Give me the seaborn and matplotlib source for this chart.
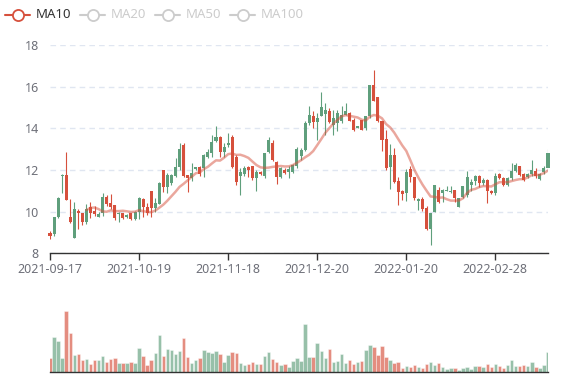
import numpy as np
import pandas as pd
import matplotlib
matplotlib.use("Agg")
import matplotlib.pyplot as plt
from matplotlib.lines import Line2D
import seaborn as sns

# ==========================================
# 数据
# ==========================================
OPEN = [8.99, 8.92, 9.72, 11.70, 11.76, 9.72, 8.75, 10.04, 9.92, 9.52,
        10.20, 10.01, 9.75, 9.92, 10.69, 10.43, 10.30, 9.88, 9.92, 9.76,
        9.92, 9.63, 10.00, 10.63, 10.24, 10.97, 10.16, 10.36, 12.00, 11.16,
        11.36, 11.70, 12.12, 13.20, 11.74, 11.60, 12.03, 12.12, 12.08, 12.64,
        12.83, 13.41, 13.57, 12.85, 13.20, 13.60, 12.60, 11.70, 11.80, 12.15,
        12.17, 11.60, 11.92, 11.69, 12.85, 13.30, 12.40, 11.65, 12.00, 11.88,
        11.92, 12.20, 12.65, 12.97, 14.25, 14.60, 14.30, 14.57, 14.70, 14.81,
        14.17, 14.25, 14.33, 14.65, 14.73, 14.41, 14.01, 14.41, 14.01, 14.57,
        16.10, 15.50, 14.33, 13.47, 12.13, 12.72, 11.49, 11.00, 10.88, 12.03,
        11.65, 10.49, 10.60, 10.17, 9.16, 10.00, 11.04, 10.90, 10.97, 10.93,
        11.04, 10.24, 10.72, 10.80, 11.28, 11.45, 11.72, 11.37, 11.50, 11.00,
        10.89, 11.82, 11.60, 11.30, 11.61, 11.97, 12.20, 11.82, 11.68, 11.82,
        11.93, 11.55, 11.88, 12.09]
CLOSE = [8.83, 9.72, 10.67, 11.78, 10.56, 9.52, 10.11, 9.92, 9.52, 10.11,
         9.92, 9.88, 9.90, 10.69, 10.37, 10.24, 9.68, 9.95, 9.68, 9.84,
         9.63, 10.00, 10.64, 10.23, 9.95, 10.16, 10.40, 11.36, 11.16, 11.76,
         11.76, 12.12, 12.99, 11.70, 11.61, 11.84, 12.12, 11.80, 12.72, 12.88,
         13.36, 13.60, 12.88, 13.09, 13.31, 12.14, 11.44, 11.90, 12.10, 12.00,
         11.60, 11.90, 11.80, 12.81, 13.45, 12.50, 11.65, 12.10, 11.87, 12.05,
         12.24, 13.00, 12.97, 14.25, 14.65, 14.29, 14.50, 15.00, 14.90, 14.29,
         14.49, 14.73, 14.65, 14.81, 14.33, 13.90, 14.09, 13.93, 14.57, 16.10,
         15.29, 14.33, 13.45, 12.08, 12.72, 11.44, 10.96, 10.85, 11.92, 11.65,
         10.65, 10.60, 10.12, 9.16, 9.93, 11.28, 10.48, 11.04, 11.04, 11.00,
         10.64, 10.64, 11.21, 11.68, 11.44, 11.72, 11.37, 11.53, 10.97, 10.88,
         11.72, 11.60, 11.29, 11.62, 11.97, 12.24, 11.77, 11.53, 11.82, 12.00,
         11.69, 11.80, 12.09, 12.81]
LOW = [8.67, 8.83, 9.68, 10.88, 10.56, 9.45, 8.72, 9.15, 9.36, 9.41,
       9.68, 9.79, 9.72, 9.79, 10.27, 10.11, 9.60, 9.52, 9.66, 9.70,
       9.60, 9.60, 9.63, 9.76, 9.84, 9.72, 10.00, 10.36, 10.96, 10.91,
       11.30, 11.65, 12.00, 11.64, 10.95, 11.48, 12.00, 11.70, 11.68, 12.56,
       12.64, 13.36, 12.60, 12.60, 13.10, 12.10, 11.30, 10.80, 11.70, 11.65,
       11.50, 10.97, 11.75, 11.60, 12.80, 12.45, 11.35, 11.60, 11.80, 11.60,
       11.85, 12.10, 12.49, 12.89, 14.17, 14.01, 13.45, 14.57, 13.69, 14.25,
       13.69, 13.85, 14.25, 14.65, 14.33, 13.85, 14.01, 13.93, 13.93, 14.50,
       15.29, 14.30, 12.89, 12.00, 11.08, 11.36, 10.33, 10.57, 10.49, 11.44,
       10.57, 10.09, 10.05, 9.13, 8.41, 10.00, 10.40, 10.48, 10.97, 10.89,
       10.48, 10.24, 10.64, 10.72, 11.00, 11.29, 11.20, 11.29, 10.40, 10.85,
       10.81, 11.55, 11.21, 11.25, 11.53, 11.90, 11.69, 11.45, 11.60, 11.69,
       11.61, 11.50, 11.80, 12.05]
HIGH = [9.07, 9.75, 10.72, 11.80, 12.88, 10.59, 10.48, 10.11, 9.95, 10.37,
        10.48, 10.27, 9.96, 10.88, 10.80, 10.85, 10.33, 9.98, 9.95, 9.90,
        9.95, 10.05, 10.72, 10.66, 10.40, 11.00, 10.64, 11.40, 12.00, 11.84,
        11.80, 12.56, 13.28, 13.31, 11.76, 12.32, 12.15, 12.19, 12.75, 12.99,
        13.68, 14.11, 13.62, 13.28, 13.76, 13.70, 12.70, 12.10, 12.20, 12.20,
        12.20, 12.00, 11.95, 12.83, 13.60, 13.45, 12.45, 12.15, 12.10, 12.20,
        12.30, 13.10, 13.05, 14.33, 15.05, 14.81, 14.73, 15.74, 15.21, 14.97,
        14.89, 14.89, 15.05, 15.21, 14.78, 14.49, 14.12, 14.41, 14.60, 16.10,
        16.82, 15.50, 14.33, 13.92, 13.25, 13.04, 11.65, 11.03, 12.03, 12.19,
        11.65, 10.65, 10.70, 10.25, 9.95, 11.30, 11.20, 11.08, 11.21, 11.21,
        11.04, 10.64, 11.21, 11.93, 11.55, 11.77, 11.77, 11.61, 11.56, 11.05,
        11.85, 11.85, 11.65, 11.65, 12.35, 12.33, 12.20, 11.85, 11.85, 12.49,
        12.09, 11.85, 12.17, 13.00]
VOLUME = [42, 104, 93, 42, 183, 118, 50, 53, 36, 38,
          25, 36, 35, 49, 30, 38, 41, 27, 27, 27,
          30, 26, 72, 48, 21, 36, 56, 111, 48, 68,
          65, 53, 63, 101, 46, 27, 36, 41, 66, 61,
          58, 63, 54, 30, 51, 60, 56, 27, 21, 25,
          30, 23, 25, 47, 60, 38, 30, 21, 24, 14,
          33, 42, 34, 144, 45, 45, 88, 64, 42, 68,
          30, 33, 54, 27, 36, 24, 30, 32, 65, 82,
          75, 52, 78, 44, 36, 27, 30, 13, 18, 16,
          20, 15, 12, 25, 30, 21, 27, 14, 8, 11,
          12, 6, 11, 15, 10, 18, 17, 16, 24, 14,
          25, 18, 12, 22, 35, 18, 18, 22, 18, 30,
          15, 12, 22, 59]
TICK_LABELS = ["2021-09-17", "2021-10-19", "2021-11-18",
               "2021-12-20", "2022-01-20", "2022-02-28"]
TICK_STEP = 22
LEGEND_NAMES = ["MA10", "MA20", "MA50", "MA100"]

RED = "#d6503c"
GREEN = "#5f9f7c"
AXIS_C = "#6e7079"

df = pd.DataFrame({"open": OPEN, "close": CLOSE, "low": LOW,
                   "high": HIGH, "vol": VOLUME})
df["idx"] = np.arange(len(df))
df["dir"] = np.where(df["close"] >= df["open"], "up", "down")
df["ma10"] = df["close"].rolling(10).mean()

# ==========================================
# 绘图
# ==========================================
sns.set_theme(style="white")
plt.rcParams["font.family"] = ["Noto Sans", "DejaVu Sans"]

W, H = 577, 380
fig = plt.figure(figsize=(W / 100, H / 100), dpi=100)
ax = fig.add_axes([50 / W, (H - 253.3) / H, 498 / W, 208.3 / H])
axv = fig.add_axes([50 / W, 8 / H, 498 / W, 72 / H])

# K 线
colors = df["dir"].map({"up": GREEN, "down": RED})
ax.vlines(df["idx"], df["low"], df["high"], colors=colors, lw=0.8, zorder=3)
body = (df["close"] - df["open"]).abs().clip(lower=0.05)
ax.bar(df["idx"], body, bottom=df[["open", "close"]].min(axis=1),
       width=0.75, color=colors, linewidth=0, edgecolor="none",
       zorder=4, clip_on=False)

# MA10
sns.lineplot(data=df, x="idx", y="ma10", ax=ax, color=RED, alpha=0.5,
             lw=1.8, zorder=5)

ax.set_xlim(0, len(df) - 1)
ax.set_ylim(8, 18)
ax.set_yticks([8, 10, 12, 14, 16, 18])
ax.set_xticks(np.arange(0, len(df), TICK_STEP)[:len(TICK_LABELS)])
ax.set_xticklabels(TICK_LABELS)
ax.set_xlabel("")
ax.set_ylabel("")
ax.yaxis.grid(True, color="#e0e6f1", lw=1, linestyle=(0, (4, 3)))
ax.set_axisbelow(True)
for s in ["top", "right", "left"]:
    ax.spines[s].set_visible(False)
ax.spines["bottom"].set_color("#333333")
ax.spines["bottom"].set_linewidth(1)
ax.tick_params(axis="x", length=5, width=1, color="#333333", labelsize=9,
               labelcolor=AXIS_C, pad=2, bottom=True)
ax.tick_params(axis="y", length=0, labelsize=9, labelcolor=AXIS_C, pad=8)

# 成交量
sns.barplot(data=df, x="idx", y="vol", hue="dir", native_scale=True,
            palette={"up": GREEN, "down": RED}, dodge=False, width=0.85,
            saturation=1, alpha=0.65, errorbar=None, legend=False, ax=axv,
            edgecolor="white", linewidth=0.4)
axv.set_xlim(0, len(df) - 1)
axv.set_ylim(0, 216)
axv.set_xticks([])
axv.set_yticks([])
axv.set_xlabel("")
axv.set_ylabel("")
for s in ["top", "right", "left"]:
    axv.spines[s].set_visible(False)
axv.spines["bottom"].set_color("#333333")
axv.spines["bottom"].set_linewidth(1)

# 图例 (MA10 启用, 其余灰色)
icon_x = [5, 80, 155, 230]
for i, name in enumerate(LEGEND_NAMES):
    c = RED if i == 0 else "#cccccc"
    tc = "#333333" if i == 0 else "#cccccc"
    x0 = icon_x[i]
    fig.add_artist(Line2D([x0 / W, (x0 + 25) / W], [1 - 15 / H] * 2,
                          color=c, lw=1.5, transform=fig.transFigure))
    fig.add_artist(Line2D([(x0 + 12.5) / W], [1 - 15 / H], marker="o",
                          markersize=8, markerfacecolor="white",
                          markeredgecolor=c, markeredgewidth=1.3,
                          transform=fig.transFigure))
    fig.text((x0 + 31) / W, 1 - 15 / H, name, color=tc, fontsize=9.5,
             va="center", ha="left")

fig.savefig("out.png", dpi=100)
plt.close(fig)
